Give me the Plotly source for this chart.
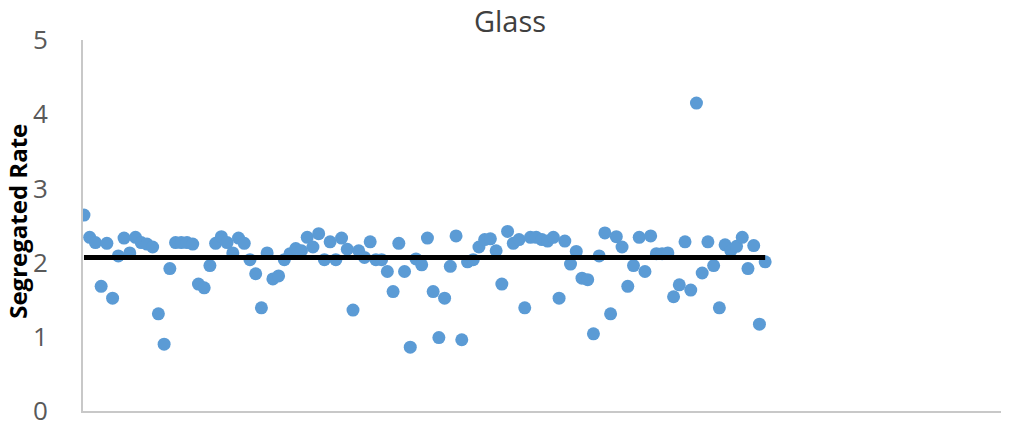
import plotly.graph_objects as go

title_text = "Glass"
y_title = "Segregated Rate"
y_ticks = [0, 1, 2, 3, 4, 5]
average_rate = 2.07

segregated_rate = [
    2.64, 2.34, 2.27, 1.68, 2.26, 1.52, 2.09, 2.33, 2.13, 2.34,
    2.27, 2.25, 2.21, 1.31, 0.90, 1.92, 2.27, 2.27, 2.27, 2.25,
    1.71, 1.66, 1.96, 2.26, 2.35, 2.27, 2.13, 2.33, 2.26, 2.04,
    1.85, 1.39, 2.13, 1.78, 1.82, 2.04, 2.12, 2.19, 2.16, 2.34,
    2.21, 2.39, 2.04, 2.28, 2.04, 2.33, 2.18, 1.36, 2.16, 2.07,
    2.28, 2.04, 2.04, 1.88, 1.61, 2.26, 1.88, 0.86, 2.05, 1.97,
    2.33, 1.61, 0.99, 1.52, 1.95, 2.36, 0.96, 2.01, 2.04, 2.21,
    2.31, 2.32, 2.16, 1.71, 2.42, 2.26, 2.31, 1.39, 2.34, 2.34,
    2.31, 2.29, 2.34, 1.52, 2.29, 1.98, 2.15, 1.79, 1.77, 1.04,
    2.09, 2.40, 1.31, 2.35, 2.21, 1.68, 1.96, 2.34, 1.88, 2.36,
    2.12, 2.12, 2.13, 1.54, 1.70, 2.28, 1.63, 4.15, 1.86, 2.28,
    1.96, 1.39, 2.24, 2.16, 2.22, 2.34, 1.92, 2.23, 1.17, 2.01,
]
sample_index = list(range(1, len(segregated_rate) + 1))

# The page body has an 8px default margin, so the figure is sized/offset to fit the window.
W, H = 1001, 416

fig = go.Figure()
fig.add_trace(go.Scatter(
    x=sample_index, y=segregated_rate, mode="markers",
    marker=dict(size=13, color="#5B9BD5"), showlegend=False, hoverinfo="y",
))
fig.add_trace(go.Scatter(
    x=[sample_index[0], sample_index[-1]], y=[average_rate, average_rate],
    mode="lines", line=dict(color="black", width=5), showlegend=False,
))

fig.update_layout(
    width=W, height=H,
    margin=dict(l=75, r=4, t=32, b=13),
    plot_bgcolor="white", paper_bgcolor="white",
    font=dict(family="Open Sans, Liberation Sans, sans-serif", color="#595959"),
    title=dict(text=title_text, x=502 / W, xref="container", xanchor="center",
               y=1 - 14 / H, yref="container", yanchor="middle",
               font=dict(size=29, color="#404040")),
    xaxis=dict(range=[0.83, 161.9], showticklabels=False, ticks="",
               showgrid=False, zeroline=False, showline=True, automargin=False,
               linecolor="#C8C8C8", linewidth=2),
    yaxis=dict(range=[0, 5], tickvals=y_ticks, showgrid=False, zeroline=False,
               showline=True, linecolor="#C8C8C8", linewidth=2, automargin=False,
               ticks="", ticklabelstandoff=28, ticklabeloverflow="allow",
               tickfont=dict(size=26, color="#595959")),
    annotations=[dict(
        text="<b>" + y_title + "</b>", textangle=-90,
        xref="paper", x=-65 / 922, xanchor="center",
        yref="paper", y=0.51, yanchor="middle", showarrow=False,
        font=dict(size=24, color="black"),
    )],
)

fig.write_html("out.html")
